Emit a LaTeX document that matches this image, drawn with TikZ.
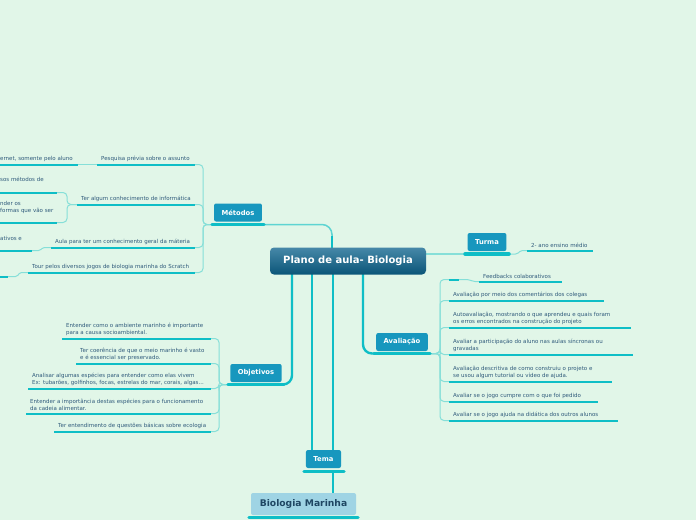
\documentclass[tikz,border=0pt]{standalone}
\usepackage{fontspec}
\setmainfont{DejaVu Sans}
\usetikzlibrary{backgrounds,calc}
\pgfdeclarelayer{canvas}
\pgfsetlayers{canvas,background,main}
\definecolor{bg}{HTML}{E1F6E8}
\definecolor{boxc}{HTML}{1797BE}
\definecolor{ulc}{HTML}{0EBEC6}
\definecolor{midc}{HTML}{5ED4D2}
\definecolor{subc}{HTML}{86DFD8}
\definecolor{txc}{HTML}{2F5A7B}
\definecolor{topc}{HTML}{4688A8}
\definecolor{botc}{HTML}{0B5578}
\definecolor{bmfill}{HTML}{9FD4E4}
\definecolor{bmtext}{HTML}{1F4763}
\newcommand\tpc[5]{%
  \draw[ul] (#2,#4) coordinate (#1-l) -- (#3,#4) coordinate (#1-r);
  \node[tx, anchor=south west] (#1) at (#2+4,#4-3) {#5};}
\begin{document}
\begin{tikzpicture}[x=1pt,y=-1pt,
  tx/.style={font=\fontsize{5.5}{6.7}\selectfont, text=txc, inner sep=0pt, align=left},
  mainbox/.style={fill=boxc, rounded corners=2pt, text=white, font=\fontsize{6.8}{8}\selectfont\bfseries, minimum height=18pt, inner xsep=7.5pt, inner ysep=0pt},
  central/.style={rounded corners=4pt, top color=topc, bottom color=botc, text=white, font=\fontsize{10}{12}\selectfont\bfseries, minimum width=156pt, minimum height=27pt, inner sep=0pt},
  thickul/.style={draw=ulc, line width=3.5pt, line cap=round},
  ul/.style={draw=ulc, line width=2pt},
  conn/.style={draw=ulc, line width=2.4pt, rounded corners=9pt},
  sub/.style={draw=subc, line width=1pt, rounded corners=4pt},
]
\useasboundingbox (0,0) rectangle (696,520);
\begin{pgfonlayer}{canvas}
\fill[bg] (0,0) rectangle (696,520);
\end{pgfonlayer}
\clip (0,0) rectangle (696,520);

% central
\node[central] (center) at (348,261) {Plano de aula- Biologia};
\coordinate (cMet) at (332,258);
\coordinate (cObj) at (292,268);
\coordinate (cTa) at (312,268);
\coordinate (cTb) at (333,268);
\coordinate (cAv) at (363,268);
\coordinate (cTu) at (420,254);

% main topics
\node[mainbox] (met) at (238,212.5) {Métodos};
\draw[thickul] (212,224.5) coordinate (met-l) -- (264,224.5) coordinate (met-r);
\node[mainbox] (obj) at (256,373) {Objetivos};
\draw[thickul] (228,384.5) coordinate (obj-l) -- (284,384.5) coordinate (obj-r);
\node[mainbox] (aval) at (402,342) {Avaliação};
\draw[thickul] (374,353.5) coordinate (aval-l) -- (430,353.5) coordinate (aval-r);
\node[mainbox] (turma) at (487,242) {Turma};
\draw[thickul] (465,254) coordinate (turma-l) -- (509,254) coordinate (turma-r);
\node[mainbox] (tema) at (323.5,459) {Tema};
\draw[thickul] (304,471.5) coordinate (tema-l) -- (344,471.5) coordinate (tema-r);
\coordinate (temaB) at (333,471.5);
\node[fill=bmfill, rounded corners=2pt, text=bmtext, font=\fontsize{9.2}{11}\selectfont\bfseries, minimum width=105pt, minimum height=22pt, inner sep=0pt] (bm) at (303.5,504) {Biologia Marinha};
\draw[thickul] (249,517.5) -- (358,517.5);

% Métodos children
\tpc{m1}{97}{195}{164.5}{Pesquisa prévia sobre o assunto}
\tpc{m2}{77}{195}{204.5}{Ter algum conhecimento de informática}
\tpc{m3}{51}{195}{247.5}{Aula para ter um conhecimento geral da máteria}
\tpc{m4}{28}{195}{272.5}{Tour pelos diversos jogos de biologia marinha do Scratch}
% grandchildren (cut at left edge)
\draw[ul] (-5,164.5) -- (78,164.5) coordinate (g1-r);
\node[tx, anchor=base west] (g1) at (0,160) {ernet, somente pelo aluno};
\draw[ul] (-5,192.5) -- (57,192.5) coordinate (g2-r);
\node[tx, anchor=base west] (g2) at (0,181) {sos métodos de};
\draw[ul] (-5,222.5) -- (57,222.5) coordinate (g3-r);
\node[tx, anchor=south west] (g3) at (0,214) {nder os\\formas que vão ser};
\draw[ul] (-5,250.5) -- (32,250.5) coordinate (g4-r);
\node[tx, anchor=base west] (g4) at (0,240) {ativos e};
\draw[ul] (-5,276.5) -- (8,276.5) coordinate (g5-r);

% Objetivos children
\tpc{o1}{62}{211}{338.5}{Entender como o ambiente marinho é importante\\para a causa socioambiental.}
\tpc{o2}{76}{211}{363.5}{Ter coerência de que o meio marinho é vasto\\e é essencial ser preservado.}
\tpc{o3}{28}{211}{388.5}{Analisar algumas espécies para entender como elas vivem\\Ex: tubarões, golfinhos, focas, estrelas do mar, corais, algas...}
\tpc{o4}{26}{211}{413.5}{Entender a importância destas espécies para o funcionamento\\da cadeia alimentar.}
\tpc{o5}{54}{211}{431.5}{Ter entendimento de questões básicas sobre ecologia}

% Avaliação children
\draw[ul] (449,279.5) coordinate (a0-l) -- (459,279.5) coordinate (a0-r);
\tpc{a1}{479}{562}{281.5}{Feedbacks colaborativos}
\tpc{a2}{449}{604}{300.5}{Avaliação por meio dos comentários dos colegas}
\tpc{a3}{449}{631}{327.5}{Autoavaliação, mostrando o que aprendeu e quais foram\\os erros encontrados na construção do projeto}
\tpc{a4}{449}{633}{354.5}{Avaliar a participação do aluno nas aulas síncronas ou\\gravadas}
\tpc{a5}{449}{612}{381.5}{Avaliação descritiva de como construiu o projeto e\\se usou algum tutorial ou vídeo de ajuda.}
\tpc{a6}{449}{598}{401.5}{Avaliar se o jogo cumpre com o que foi pedido}
\tpc{a7}{449}{618}{420.5}{Avaliar se o jogo ajuda na didática dos outros alunos}

% Turma child
\tpc{t1}{527}{593}{250.5}{2- ano ensino médio}

\begin{pgfonlayer}{background}
% main connectors
\draw[draw=midc, line width=1.5pt, rounded corners=10pt] (cMet) -- (332,224.5) -- (met-r);
\draw[draw=ulc, line width=2.4pt] (cMet) -- (332,236);
\draw[conn] (cObj) |- (obj-r);
\draw[conn] (cTa) -- (cTa |- tema.north);
\draw[conn] (cTb) -- (cTb |- tema.north);
\draw[conn] (temaB) -- (temaB |- bm.north);
\draw[conn] (cAv) |- (aval-l);
\draw[draw=subc, line width=1.4pt] (cTu) -- (turma-l);
% Métodos bracket
\foreach \c in {m1,m2,m3,m4} \draw[sub] (met-l) -- ++(-9,0) |- (\c-r);
\draw[sub] (m1-l) -- (g1-r);
\foreach \c in {g2,g3} \draw[sub] (m2-l) -- ++(-10,0) |- (\c-r);
\draw[sub, rounded corners=1.5pt] (m3-l) -- ++(-8,0) -- ++(-3,3) -- (g4-r);
\draw[sub, rounded corners=1.5pt] (m4-l) -- ++(-8,0) -- ++(-3,4) -- (g5-r);
% Objetivos bracket
\foreach \c in {o1,o2,o3,o4,o5} \draw[sub] (obj-l) -- ++(-9,0) |- (\c-r);
% Avaliação bracket
\foreach \c in {a0,a2,a3,a4,a5,a6,a7} \draw[sub] (aval-r) -- ++(10,0) |- (\c-l);
\draw[sub, rounded corners=2pt] (a0-r) -- ++(10,0) -- ++(4,2) -- (a1-l);
% Turma child
\draw[sub, rounded corners=1.5pt] (turma-r) -- ++(8,0) -- ++(4,-3.5) -- (t1-l);
\end{pgfonlayer}
\end{tikzpicture}
\end{document}
